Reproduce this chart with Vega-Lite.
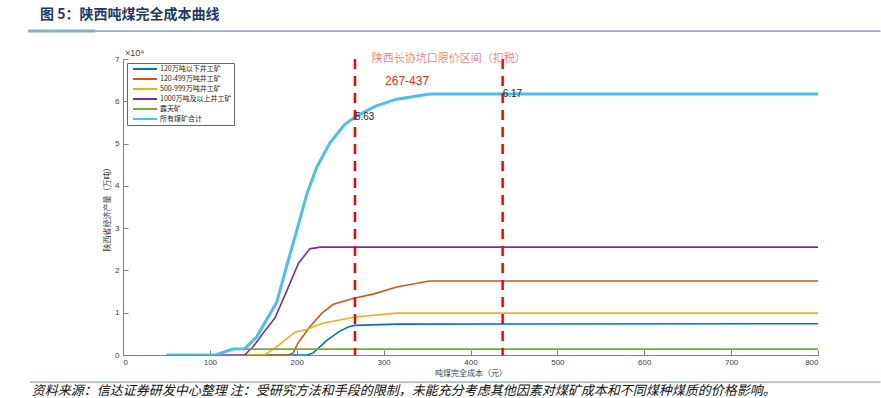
{
  "$schema": "https://vega.github.io/schema/vega-lite/v6.json",
  "autosize": "none",
  "width": 695,
  "height": 296,
  "padding": {"left": 123, "top": 59, "right": 63, "bottom": 43},
  "background": "white",
  "config": {
    "view": {"stroke": null},
    "axis": {
      "grid": false,
      "domainColor": "#808080",
      "tickColor": "#808080",
      "labelColor": "#404040",
      "titleColor": "#404040",
      "labelFont": "Liberation Sans",
      "titleFont": "Noto Sans CJK SC",
      "labelFontSize": 8,
      "titleFontSize": 8,
      "titleFontWeight": "normal",
      "tickSize": -5
    }
  },
  "datasets": {
    "curves": [
      {"series": "120万吨以下井工矿", "cost": 140, "output": 0},
      {"series": "120万吨以下井工矿", "cost": 212, "output": 0},
      {"series": "120万吨以下井工矿", "cost": 219, "output": 0.05},
      {"series": "120万吨以下井工矿", "cost": 235, "output": 0.35},
      {"series": "120万吨以下井工矿", "cost": 250, "output": 0.57},
      {"series": "120万吨以下井工矿", "cost": 260, "output": 0.67},
      {"series": "120万吨以下井工矿", "cost": 267, "output": 0.7},
      {"series": "120万吨以下井工矿", "cost": 315, "output": 0.73},
      {"series": "120万吨以下井工矿", "cost": 800, "output": 0.74},
      {"series": "120-499万吨井工矿", "cost": 140, "output": 0},
      {"series": "120-499万吨井工矿", "cost": 190, "output": 0},
      {"series": "120-499万吨井工矿", "cost": 196, "output": 0.05},
      {"series": "120-499万吨井工矿", "cost": 201, "output": 0.27},
      {"series": "120-499万吨井工矿", "cost": 215, "output": 0.67},
      {"series": "120-499万吨井工矿", "cost": 229, "output": 0.99},
      {"series": "120-499万吨井工矿", "cost": 242, "output": 1.2},
      {"series": "120-499万吨井工矿", "cost": 267, "output": 1.35},
      {"series": "120-499万吨井工矿", "cost": 288, "output": 1.44},
      {"series": "120-499万吨井工矿", "cost": 315, "output": 1.61},
      {"series": "120-499万吨井工矿", "cost": 353, "output": 1.75},
      {"series": "120-499万吨井工矿", "cost": 800, "output": 1.75},
      {"series": "500-999万吨井工矿", "cost": 142, "output": 0},
      {"series": "500-999万吨井工矿", "cost": 163, "output": 0},
      {"series": "500-999万吨井工矿", "cost": 177, "output": 0.2},
      {"series": "500-999万吨井工矿", "cost": 198, "output": 0.54},
      {"series": "500-999万吨井工矿", "cost": 212, "output": 0.61},
      {"series": "500-999万吨井工矿", "cost": 230, "output": 0.75},
      {"series": "500-999万吨井工矿", "cost": 267, "output": 0.9},
      {"series": "500-999万吨井工矿", "cost": 315, "output": 0.99},
      {"series": "500-999万吨井工矿", "cost": 800, "output": 0.99},
      {"series": "1000万吨及以上井工矿", "cost": 100, "output": 0},
      {"series": "1000万吨及以上井工矿", "cost": 140, "output": 0},
      {"series": "1000万吨及以上井工矿", "cost": 150, "output": 0.2},
      {"series": "1000万吨及以上井工矿", "cost": 161, "output": 0.51},
      {"series": "1000万吨及以上井工矿", "cost": 175, "output": 0.88},
      {"series": "1000万吨及以上井工矿", "cost": 189, "output": 1.54},
      {"series": "1000万吨及以上井工矿", "cost": 202, "output": 2.17},
      {"series": "1000万吨及以上井工矿", "cost": 215, "output": 2.51},
      {"series": "1000万吨及以上井工矿", "cost": 227, "output": 2.55},
      {"series": "1000万吨及以上井工矿", "cost": 800, "output": 2.55},
      {"series": "露天矿", "cost": 106, "output": 0},
      {"series": "露天矿", "cost": 125, "output": 0.14},
      {"series": "露天矿", "cost": 800, "output": 0.14}
    ],
    "total": [
      {"series": "所有煤矿合计", "cost": 50, "output": 0},
      {"series": "所有煤矿合计", "cost": 106, "output": 0},
      {"series": "所有煤矿合计", "cost": 127, "output": 0.14},
      {"series": "所有煤矿合计", "cost": 140, "output": 0.15},
      {"series": "所有煤矿合计", "cost": 154, "output": 0.43},
      {"series": "所有煤矿合计", "cost": 165, "output": 0.83},
      {"series": "所有煤矿合计", "cost": 177, "output": 1.25},
      {"series": "所有煤矿合计", "cost": 189, "output": 2.15},
      {"series": "所有煤矿合计", "cost": 200, "output": 2.94},
      {"series": "所有煤矿合计", "cost": 212, "output": 3.83},
      {"series": "所有煤矿合计", "cost": 223, "output": 4.44},
      {"series": "所有煤矿合计", "cost": 238, "output": 5.01},
      {"series": "所有煤矿合计", "cost": 255, "output": 5.45},
      {"series": "所有煤矿合计", "cost": 267, "output": 5.63},
      {"series": "所有煤矿合计", "cost": 290, "output": 5.88},
      {"series": "所有煤矿合计", "cost": 315, "output": 6.05},
      {"series": "所有煤矿合计", "cost": 353, "output": 6.17},
      {"series": "所有煤矿合计", "cost": 800, "output": 6.17}
    ],
    "limits": [{"cost": 267}, {"cost": 437}],
    "labels": [
      {"cost": 267, "output": 5.63, "label": "5.63"},
      {"cost": 437, "output": 6.17, "label": "6.17"}
    ]
  },
  "layer": [
    {
      "data": {"name": "curves"},
      "mark": {"type": "line", "clip": true, "strokeWidth": 1.6},
      "encoding": {
        "x": {"field": "cost", "type": "quantitative",
              "scale": {"domain": [0, 800], "nice": false},
              "axis": {"title": "吨煤完全成本（元）", "values": [0, 100, 200, 300, 400, 500, 600, 700, 800], "labelPadding": 8, "titlePadding": 3}},
        "y": {"field": "output", "type": "quantitative",
              "scale": {"domain": [0, 7], "nice": false},
              "axis": {"title": "陕西省经济产量（万吨）", "values": [0, 1, 2, 3, 4, 5, 6, 7], "labelPadding": 9, "titlePadding": 3}},
        "color": {"field": "series", "type": "nominal",
                  "scale": {"domain": ["120万吨以下井工矿", "120-499万吨井工矿", "500-999万吨井工矿", "1000万吨及以上井工矿", "露天矿", "所有煤矿合计"],
                            "range": ["#0072BD", "#D95319", "#EDB120", "#7E2F8E", "#77AC30", "#4DBEEE"]},
                  "legend": {"title": null, "orient": "none", "legendX": 4, "legendY": 4,
                             "symbolType": "M0,0H8", "symbolSize": 36, "symbolStrokeWidth": 2,
                             "labelFont": "Noto Sans CJK SC", "labelFontSize": 7, "labelColor": "#222",
                             "rowPadding": 2, "labelOffset": 23, "padding": 2,
                             "strokeColor": "#666", "fillColor": "white"}}
      }
    },
    {
      "data": {"name": "total"},
      "mark": {"type": "line", "clip": true, "strokeWidth": 3},
      "encoding": {
        "x": {"field": "cost", "type": "quantitative"},
        "y": {"field": "output", "type": "quantitative"},
        "color": {"field": "series", "type": "nominal"}
      }
    },
    {
      "data": {"name": "limits"},
      "mark": {"type": "rule", "color": "#FF0000", "strokeWidth": 2.5, "strokeDash": [10, 7]},
      "encoding": {"x": {"field": "cost", "type": "quantitative"}}
    },
    {
      "data": {"name": "labels"},
      "mark": {"type": "text", "align": "left", "baseline": "middle", "font": "Liberation Sans", "fontSize": 10, "color": "#222"},
      "encoding": {
        "x": {"field": "cost", "type": "quantitative"},
        "y": {"field": "output", "type": "quantitative"},
        "text": {"field": "label"}
      }
    },
    {
      "data": {"values": [{"t": "陕西长协坑口限价区间（扣税）", "cost": 375, "output": 7.0}]},
      "mark": {"type": "text", "align": "center", "baseline": "middle", "font": "Noto Sans CJK SC", "fontSize": 11, "fontWeight": 300, "color": "#FF4545"},
      "encoding": {
        "x": {"field": "cost", "type": "quantitative"},
        "y": {"field": "output", "type": "quantitative"},
        "text": {"field": "t"}
      }
    },
    {
      "data": {"values": [{"t": "267-437", "cost": 327, "output": 6.49}]},
      "mark": {"type": "text", "align": "center", "baseline": "middle", "font": "Liberation Sans", "fontSize": 12, "color": "#FF2020"},
      "encoding": {
        "x": {"field": "cost", "type": "quantitative"},
        "y": {"field": "output", "type": "quantitative"},
        "text": {"field": "t"}
      }
    },
    {
      "data": {"values": [{"t": "×10⁴", "cost": 0, "output": 7}]},
      "mark": {"type": "text", "align": "left", "baseline": "bottom", "dx": 2, "dy": -1, "font": "Liberation Sans", "fontSize": 9, "color": "#404040"},
      "encoding": {
        "x": {"field": "cost", "type": "quantitative"},
        "y": {"field": "output", "type": "quantitative"},
        "text": {"field": "t"}
      }
    },
    {
      "data": {"values": [{"t": "图 5：陕西吨煤完全成本曲线", "cost": -95.5, "output": 8.04}]},
      "mark": {"type": "text", "align": "left", "baseline": "middle", "font": "Noto Sans CJK SC", "fontSize": 14, "fontWeight": "bold", "color": "#1F3864"},
      "encoding": {
        "x": {"field": "cost", "type": "quantitative"},
        "y": {"field": "output", "type": "quantitative"},
        "text": {"field": "t"}
      }
    },
    {
      "data": {"values": [{"t": "资料来源：信达证券研发中心整理 注：受研究方法和手段的限制，未能充分考虑其他因素对煤矿成本和不同煤种煤质的价格影响。", "cost": -105, "output": -0.85}]},
      "mark": {"type": "text", "align": "left", "baseline": "middle", "font": "Noto Sans CJK SC", "fontSize": 13, "fontStyle": "italic", "color": "#111"},
      "encoding": {
        "x": {"field": "cost", "type": "quantitative"},
        "y": {"field": "output", "type": "quantitative"},
        "text": {"field": "t"}
      }
    },
    {
      "data": {"values": [{"from": -109, "to": 872, "level": 7.66}]},
      "mark": {"type": "rule", "color": "#4A72A8", "strokeWidth": 1},
      "encoding": {
        "x": {"field": "from", "type": "quantitative"},
        "x2": {"field": "to"},
        "y": {"field": "level", "type": "quantitative"}
      }
    },
    {
      "data": {"values": [{"from": -109, "to": -32, "level": 7.66}]},
      "mark": {"type": "rule", "color": "#8EAAD0", "strokeWidth": 3},
      "encoding": {
        "x": {"field": "from", "type": "quantitative"},
        "x2": {"field": "to"},
        "y": {"field": "level", "type": "quantitative"}
      }
    },
    {
      "data": {"values": [{"from": -107, "to": 872, "level": -0.64}]},
      "mark": {"type": "rule", "color": "#4A72A8", "strokeWidth": 0.8},
      "encoding": {
        "x": {"field": "from", "type": "quantitative"},
        "x2": {"field": "to"},
        "y": {"field": "level", "type": "quantitative"}
      }
    }
  ]
}
